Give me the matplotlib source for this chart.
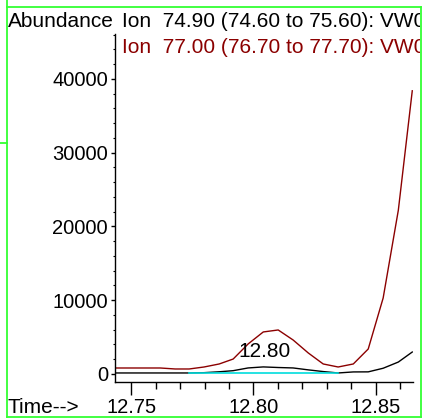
import matplotlib
matplotlib.use("Agg")
import matplotlib.pyplot as plt
from matplotlib.lines import Line2D
from matplotlib.ticker import MultipleLocator
from matplotlib.transforms import Bbox

plt.rcParams["font.family"] = ["Liberation Sans", "DejaVu Sans"]

# Retention times (min), one scan every ~0.0061 min
times = [12.7435, 12.7496, 12.7557, 12.7619, 12.7680, 12.7737, 12.7798,
         12.7860, 12.7917, 12.7978, 12.8040, 12.8101, 12.8162, 12.8224,
         12.8285, 12.8346, 12.8408, 12.8469, 12.8530, 12.8592, 12.8649]

# Ion 74.90 (black)
ion_749 = [140, 140, 140, 140, 140, 140, 180, 300, 450, 820, 960, 880,
           820, 560, 330, 140, 280, 290, 780, 1620, 2980]

# Ion 77.00 (dark red)
ion_770 = [814, 814, 814, 814, 680, 680, 950, 1360, 2030, 4070, 5700, 5970,
           4610, 2850, 1360, 950, 1360, 3390, 10300, 22200, 38400]

# integration baseline (cyan)
base_t = [12.7737, 12.8346]
base_v = [140, 140]

peak_label = "12.80"
yticks = [0, 10000, 20000, 30000, 40000]
xticks = [12.75, 12.80, 12.85]
xticklabels = ["12.75", "12.80", "12.85"]

W, H = 425, 418
fig = plt.figure(figsize=(W / 100, H / 100), dpi=100)
fig.patch.set_facecolor("white")

ax = fig.add_axes([115 / W, 36 / H, 298 / W, 348 / H])
ax.plot(times, ion_749, color="black", lw=1.0)
ax.plot(times, ion_770, color="#8B0000", lw=1.0)
ax.plot(base_t, base_v, color="#00DDDD", lw=1.2)

# label the apex of the integrated peak
i0, i1 = times.index(base_t[0]), times.index(base_t[1])
seg = ion_749[i0:i1 + 1]
ipk = i0 + seg.index(max(seg))
ax.annotate(peak_label, xy=(times[ipk], ion_749[ipk]), xytext=(1, 4),
            textcoords="offset points", ha="center", va="bottom", fontsize=15)

ax.set_xlim(12.7434, 12.8652)
ax.set_ylim(-1085, 46100)

for s in ["top", "right"]:
    ax.spines[s].set_visible(False)
for s in ["left", "bottom"]:
    ax.spines[s].set_linewidth(1.0)

ax.set_yticks(yticks)
ax.set_yticklabels([str(v) for v in yticks])
ax.yaxis.set_minor_locator(MultipleLocator(2000))
ax.set_xticks(xticks)
ax.set_xticklabels(xticklabels)
ax.xaxis.set_minor_locator(MultipleLocator(0.01))

ax.tick_params(axis="y", which="major", direction="out", length=3, width=1, pad=2, labelsize=14.5)
ax.tick_params(axis="y", which="minor", direction="out", length=1.5, width=0.8)
ax.tick_params(axis="x", which="major", direction="out", length=9.5, width=1, pad=2, labelsize=14.5)
ax.tick_params(axis="x", which="minor", direction="out", length=5, width=1)

# header texts (cut at the frame, like the original)
fig.text(8 / W, 1 - 27 / H, "Abundance", ha="left", va="baseline", fontsize=15)
clip = Bbox.from_extents(0, 0, 420, H)
t1 = fig.text(122 / W, 1 - 27 / H, "Ion  74.90 (74.60 to 75.60): VW01.D", ha="left",
              va="baseline", fontsize=15, color="black")
t2 = fig.text(122 / W, 1 - 53 / H, "Ion  77.00 (76.70 to 77.70): VW01.D", ha="left",
              va="baseline", fontsize=15, color="#8B0000")
for t in (t1, t2):
    t.set_clip_box(clip)
    t.set_clip_on(True)
fig.text(8 / W, 1 - 413 / H, "Time-->", ha="left", va="baseline", fontsize=15)

# green frame
green = "#33FF33"
def px_line(xs, ys):
    fig.add_artist(Line2D([x / W for x in xs], [1 - y / H for y in ys],
                          transform=fig.transFigure, color=green, lw=1.3))

px_line([7, 421], [7, 7])
px_line([7, 7], [0, 417])
px_line([421, 421], [7, 417])
px_line([7, 421], [416.5, 416.5])
px_line([0, 7], [143, 143])

fig.savefig("out.png", dpi=100, facecolor="white")
